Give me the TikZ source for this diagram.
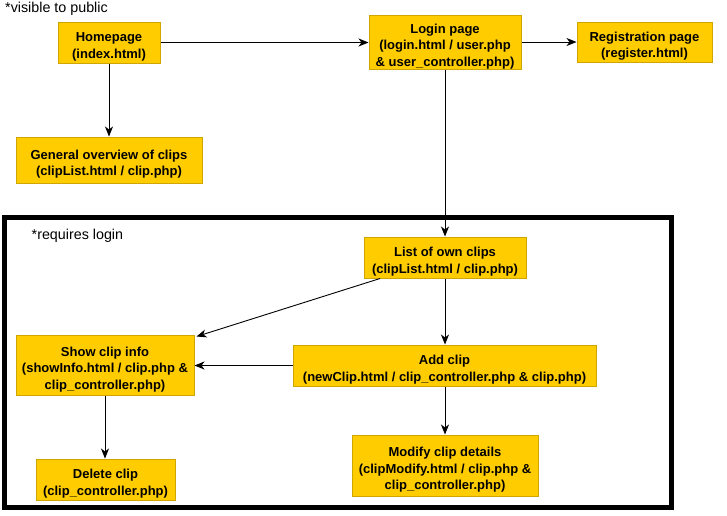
\documentclass[tikz,border=0pt]{standalone}
\usepackage{fontspec}
\setmainfont{Liberation Sans}
\usetikzlibrary{arrows.meta}
\definecolor{boxfill}{HTML}{FFCC00}
\definecolor{boxline}{HTML}{CFA500}
\newcommand{\lifttop}{\rule{0pt}{18pt}}
\tikzset{
  pagebox/.style={draw=boxline, fill=boxfill, line width=1pt, align=center, inner sep=0pt,
    font=\fontsize{13}{16.4}\selectfont\bfseries},
  link/.style={draw=black, line width=0.9pt, -{Stealth[length=10pt,width=8pt,inset=3pt]}},
  note/.style={inner sep=0pt, anchor=west, font=\fontsize{14.3}{17}\selectfont}
}
\begin{document}
\begin{tikzpicture}[x=1pt,y=-1pt]
\useasboundingbox (0,0) rectangle (727,515);
\draw[line width=5pt] (4.5,217) rectangle (671.5,507);
\node[note] (pub) at (5,9) {*visible to public};
\node[note] (req) at (31.5,236) {*requires login};

\node[pagebox, minimum width=102pt, minimum height=41pt] (home) at (109,42.5) {\lifttop Homepage\\(index.html)};
\node[pagebox, minimum width=186pt, minimum height=46pt] (over) at (109,160) {\lifttop General overview of clips\\(clipList.html / clip.php)};
\node[pagebox, minimum width=152pt, minimum height=54pt] (login) at (445,42) {\lifttop Login page\\(login.html / user.php\\\& user\_controller.php)};
\node[pagebox, minimum width=135pt, minimum height=40pt] (reg) at (644.5,42) {\lifttop Registration page\\(register.html)};
\node[pagebox, minimum width=162pt, minimum height=41pt] (list) at (445,257.5) {\lifttop List of own clips\\(clipList.html / clip.php)};
\node[pagebox, minimum width=303pt, minimum height=41pt] (add) at (444.5,365.5) {\lifttop Add clip\\(newClip.html / clip\_controller.php \& clip.php)};
\node[pagebox, minimum width=186pt, minimum height=61pt] (mod) at (445,465.5) {\lifttop Modify clip details\\(clipModify.html / clip.php \&\\clip\_controller.php)};
\node[pagebox, minimum width=178pt, minimum height=60pt] (show) at (105,365) {\lifttop Show clip info\\(showInfo.html / clip.php \&\\clip\_controller.php)};
\node[pagebox, minimum width=139pt, minimum height=41pt] (del) at (105.5,479.5) {\lifttop Delete clip\\(clip\_controller.php)};

\draw[link] (home.east) -- (login.west |- home.east);
\draw[link] (home.south) -- (over.north);
\draw[link] (login.east) -- (reg.west);
\draw[link] (login.south) -- (list.north);
\draw[link] ([xshift=-65pt]list.south) -- ([xshift=2pt,yshift=-2pt]show.north east);
\draw[link] (list.south) -- (add.north -| list.south);
\draw[link] (add.west) -- (show.east |- add.west);
\draw[link] (add.south -| list.south) -- (mod.north);
\draw[link] (show.south) -- (del.north -| show.south);
\end{tikzpicture}
\end{document}
